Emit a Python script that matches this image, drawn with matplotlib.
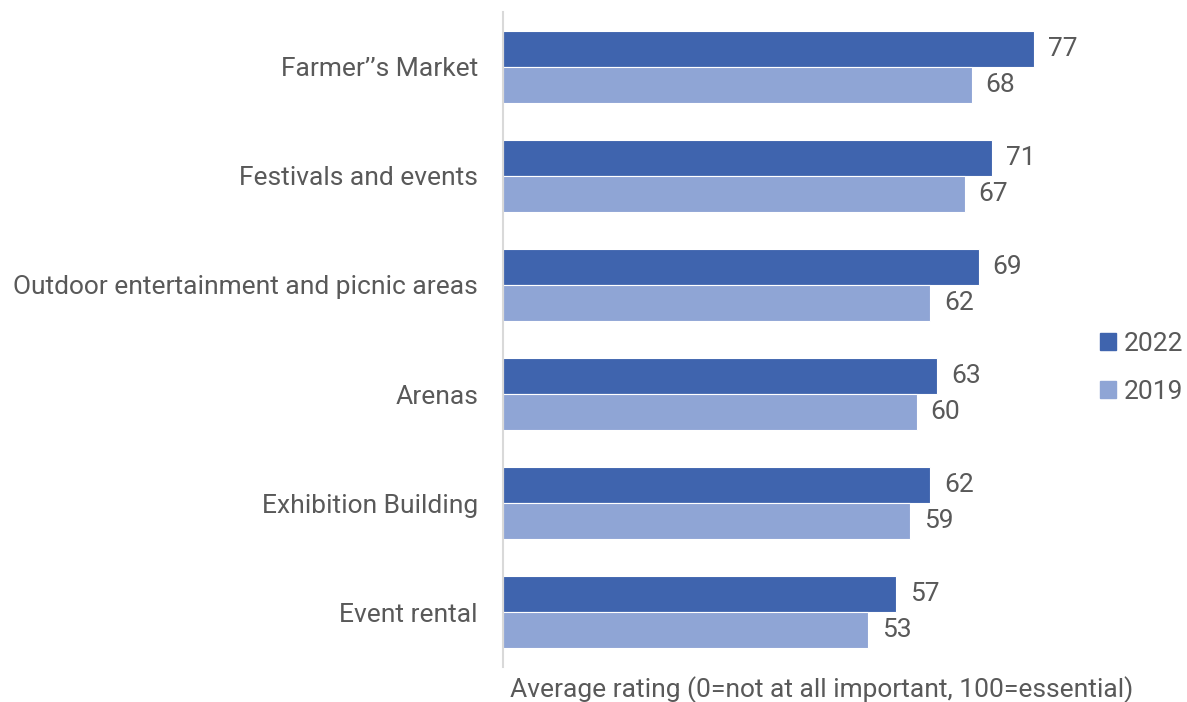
import numpy as np
import matplotlib.pyplot as plt
from matplotlib.patches import Patch

categories = ["Farmer\u2019\u2019s Market", "Festivals and events",
              "Outdoor entertainment and picnic areas", "Arenas",
              "Exhibition Building", "Event rental"]
vals_2022 = [77, 71, 69, 63, 62, 57]
vals_2019 = [68, 67, 62, 60, 59, 53]

dark = '#3F64AE'
light = '#8FA5D5'
txt = '#595959'
fs = 19

plt.rcParams['font.family'] = ['Roboto', 'DejaVu Sans']

fig = plt.figure(figsize=(11.87, 7.02), dpi=100)
ax = fig.add_axes([503 / 1187, 35 / 702, (1089 - 503) / 1187, (667 - 12) / 702])

y = np.arange(len(categories))
h = 0.33
ax.barh(y - h / 2, vals_2022, height=h, color=dark, edgecolor='white', linewidth=0.8)
ax.barh(y + h / 2, vals_2019, height=h, color=light, edgecolor='white', linewidth=0.8)

for i in range(len(categories)):
    ax.text(vals_2022[i] + 2, y[i] - h / 2, str(vals_2022[i]), va='center', ha='left',
            fontsize=fs, color=txt)
    ax.text(vals_2019[i] + 2, y[i] + h / 2, str(vals_2019[i]), va='center', ha='left',
            fontsize=fs, color=txt)

ax.set_xlim(0, 85)
ax.set_ylim(len(categories) - 0.5, -0.5)
ax.set_yticks(y)
ax.set_yticklabels(categories, fontsize=fs, color=txt)
ax.tick_params(axis='y', length=0, pad=18)
ax.set_xticks([])
for s in ['top', 'right', 'bottom']:
    ax.spines[s].set_visible(False)
ax.spines['left'].set_color('#D9D9D9')
ax.spines['left'].set_linewidth(1.5)

fig.text(510 / 1187, 1 - 690 / 702, 'Average rating (0=not at all important, 100=essential)',
         ha='left', va='center', fontsize=fs, color=txt)

handles = [Patch(color=dark, label='2022'), Patch(color=light, label='2019')]
fig.legend(handles=handles, loc='center left', bbox_to_anchor=(1100 / 1187, 1 - 368 / 702),
           frameon=False, fontsize=fs, labelcolor=txt, handlelength=0.6, handleheight=0.6,
           handletextpad=0.3, labelspacing=0.9, borderpad=0, borderaxespad=0)

fig.savefig('out.png', dpi=100)
